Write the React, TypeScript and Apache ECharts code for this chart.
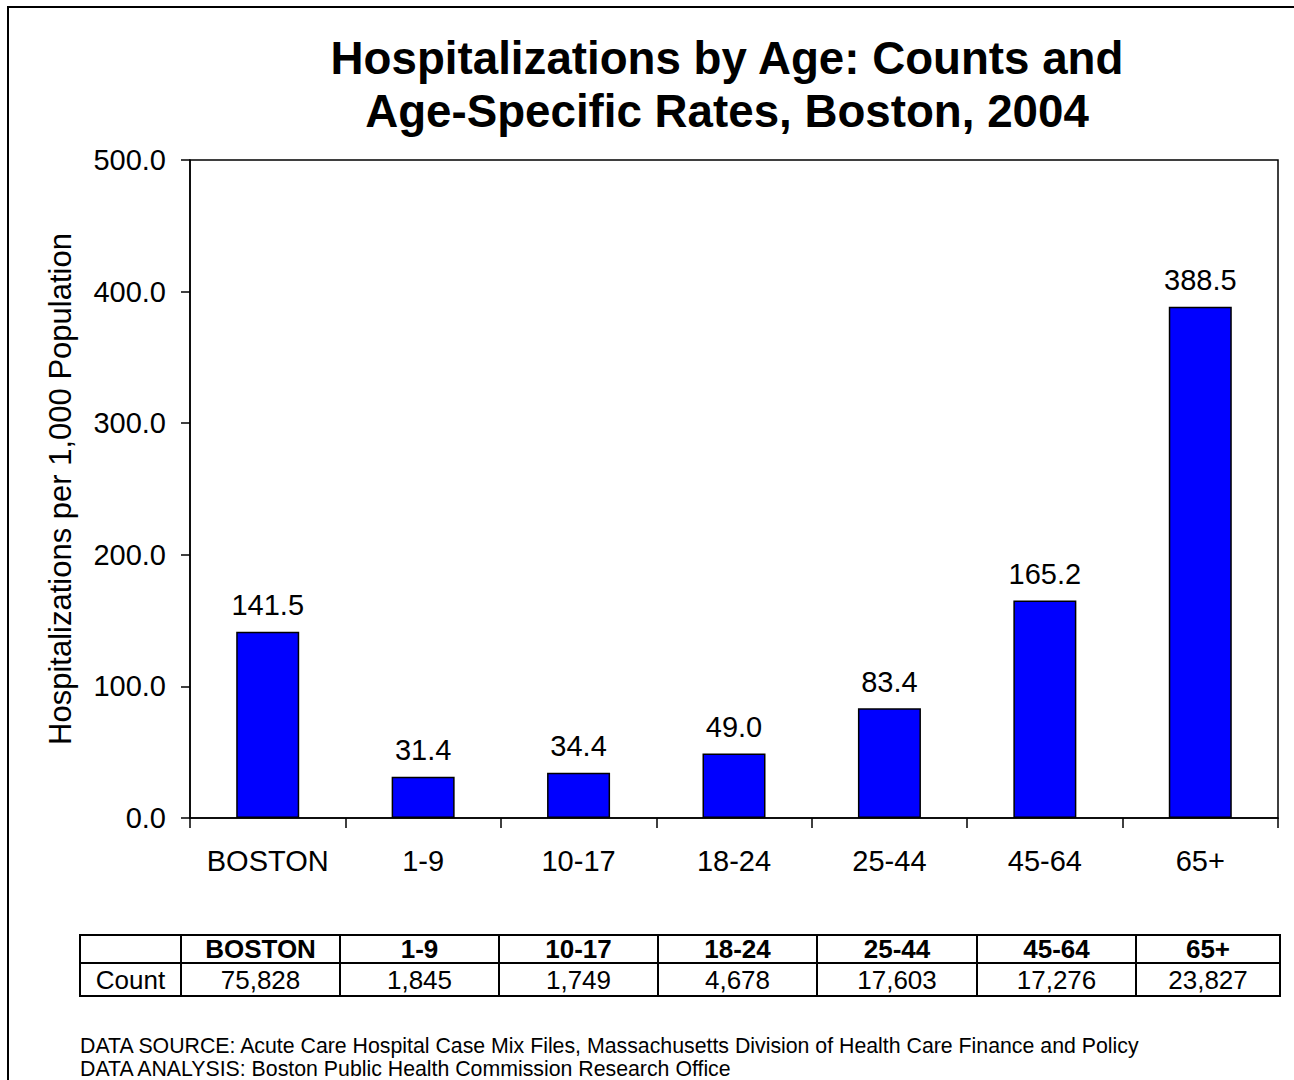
import React, { useEffect, useRef } from "react";
import * as echarts from "echarts";

const categories = ["BOSTON", "1-9", "10-17", "18-24", "25-44", "45-64", "65+"];
const rates = [141.5, 31.4, 34.4, 49.0, 83.4, 165.2, 388.5];
const counts = [75828, 1845, 1749, 4678, 17603, 17276, 23827];
const rowLabel = "Count";
const titleLines = ["Hospitalizations by Age: Counts and", "Age-Specific Rates, Boston, 2004"];
const yAxisName = "Hospitalizations per 1,000 Population";
const footnotes = [
  "DATA SOURCE: Acute Care Hospital Case Mix Files, Massachusetts Division of Health Care Finance and Policy",
  "DATA ANALYSIS: Boston Public Health Commission Research Office",
];

const FONT = "'Liberation Sans', Arial, Helvetica, sans-serif";
// table layout (pixel positions of column edges and row edges)
const colEdges = [80, 181, 340, 499, 658, 817, 977, 1136, 1280];
const rowEdges = [935, 963, 996];

function buildTable(): any[] {
  const els: any[] = [];
  const left = colEdges[0];
  const right = colEdges[colEdges.length - 1];
  const top = rowEdges[0];
  const bottom = rowEdges[rowEdges.length - 1];
  const stroke = { stroke: "#000", lineWidth: 2 };
  els.push({
    type: "rect",
    shape: { x: left, y: top, width: right - left, height: bottom - top },
    style: { fill: "#fff", ...stroke },
  });
  els.push({ type: "line", shape: { x1: left, y1: rowEdges[1], x2: right, y2: rowEdges[1] }, style: stroke });
  for (let i = 1; i < colEdges.length - 1; i++) {
    els.push({ type: "line", shape: { x1: colEdges[i], y1: top, x2: colEdges[i], y2: bottom }, style: stroke });
  }
  const hMid = (rowEdges[0] + rowEdges[1]) / 2;
  const dMid = (rowEdges[1] + rowEdges[2]) / 2;
  els.push({
    type: "text",
    x: (colEdges[0] + colEdges[1]) / 2,
    y: dMid,
    style: { text: rowLabel, font: `26px ${FONT}`, fill: "#000", align: "center", verticalAlign: "middle" },
  });
  categories.forEach((c, i) => {
    const cx = (colEdges[i + 1] + colEdges[i + 2]) / 2;
    els.push({
      type: "text",
      x: cx,
      y: hMid,
      style: { text: c, font: `bold 26px ${FONT}`, fill: "#000", align: "center", verticalAlign: "middle" },
    });
    els.push({
      type: "text",
      x: cx,
      y: dMid,
      style: {
        text: counts[i].toLocaleString("en-US"),
        font: `26px ${FONT}`,
        fill: "#000",
        align: "center",
        verticalAlign: "middle",
      },
    });
  });
  return els;
}

export default function App() {
  const ref = useRef<HTMLDivElement>(null);
  useEffect(() => {
    if (!ref.current) return;
    const chart = echarts.init(ref.current, null, { renderer: "svg" });
    const option: any = {
      animation: false,
      backgroundColor: "#fff",
      textStyle: { fontFamily: FONT },
      title: {
        text: titleLines.join("\n"),
        left: 722,
        top: 27,
        textAlign: "center",
        textStyle: { fontFamily: FONT, fontSize: 45.7, fontWeight: "bold", color: "#000", lineHeight: 53 },
      },
      grid: {
        left: 190,
        right: 16,
        top: 160,
        bottom: 262,
        show: true,
        borderColor: "#000",
        borderWidth: 1.5,
        backgroundColor: "transparent",
      },
      xAxis: {
        type: "category",
        data: categories,
        boundaryGap: true,
        axisLine: { show: true, lineStyle: { color: "#000", width: 1.5 } },
        axisTick: { show: true, length: 10, inside: false, lineStyle: { color: "#000", width: 1.5 } },
        axisLabel: { fontFamily: FONT, fontSize: 29, color: "#000", margin: 28, interval: 0 },
        splitLine: { show: false },
      },
      yAxis: {
        type: "value",
        min: 0,
        max: 500,
        interval: 100,
        name: yAxisName,
        nameLocation: "middle",
        nameGap: 114,
        nameRotate: 90,
        nameTextStyle: { fontFamily: FONT, fontSize: 31, color: "#000" },
        axisLine: { show: true, lineStyle: { color: "#000", width: 1.5 } },
        axisTick: { show: true, length: 9, inside: false, lineStyle: { color: "#000", width: 1.5 } },
        axisLabel: {
          fontFamily: FONT,
          fontSize: 29,
          color: "#000",
          margin: 24,
          formatter: (v: number) => v.toFixed(1),
        },
        splitLine: { show: false },
      },
      series: [
        {
          type: "bar",
          data: rates,
          barWidth: 63,
          itemStyle: { color: "#0000FF", borderColor: "#000", borderWidth: 1.5 },
          label: {
            show: true,
            position: "top",
            distance: 12,
            fontFamily: FONT,
            fontSize: 29,
            color: "#000",
            formatter: (p: any) => Number(p.value).toFixed(1),
          },
        },
      ],
      graphic: [
        {
          type: "rect",
          shape: { x: 8, y: 7, width: 1400, height: 1200 },
          style: { fill: "none", stroke: "#000", lineWidth: 2 },
          silent: true,
        },
        ...buildTable(),
        ...footnotes.map((t, i) => ({
          type: "text",
          x: 80,
          y: 1046 + i * 22.5,
          style: { text: t, font: `21.3px ${FONT}`, fill: "#000", align: "left", verticalAlign: "middle" },
        })),
      ],
    };
    chart.setOption(option);
    return () => chart.dispose();
  }, []);
  return (
    <div
      ref={ref}
      style={{ position: "absolute", left: 0, top: 0, width: 1294, height: 1080 }}
    />
  );
}
